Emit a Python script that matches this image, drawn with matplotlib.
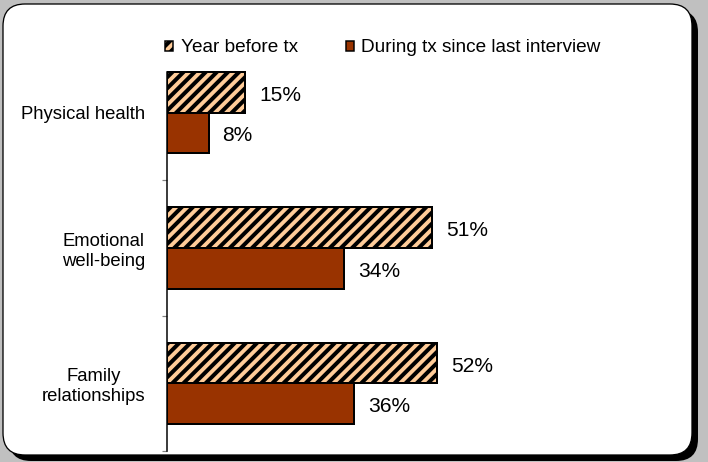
import matplotlib.pyplot as plt
import matplotlib.patches as mpatches
from matplotlib.transforms import IdentityTransform

# data
categories = ["Physical health", "Emotional\nwell-being", "Family\nrelationships"]
year_before = [15, 51, 52]
during_tx = [8, 34, 36]
series_names = ["Year before tx", "During tx since last interview"]

W, H, DPI = 708, 462, 100


def px(v):
    # pixels -> points
    return v * 72 / DPI


plt.rcParams['font.family'] = ['Liberation Sans', 'DejaVu Sans']
plt.rcParams['hatch.linewidth'] = px(4)
plt.rcParams['hatch.color'] = 'black'

fig = plt.figure(figsize=(W / DPI, H / DPI), dpi=DPI, facecolor='#c0c0c0')

# rounded white panel with a dark drop shadow (pixel coords)
shadow = mpatches.FancyBboxPatch((9, 1), 689, 451, boxstyle="round,pad=0,rounding_size=22",
                                 transform=IdentityTransform(), facecolor='black',
                                 edgecolor='none', zorder=0)
panel = mpatches.FancyBboxPatch((3, 7), 689, 451, boxstyle="round,pad=0,rounding_size=22",
                                transform=IdentityTransform(), facecolor='white',
                                edgecolor='black', linewidth=px(1.3), zorder=1)
fig.add_artist(shadow)
fig.add_artist(panel)

ax = fig.add_axes([167 / W, 11 / H, 520 / W, 406 / H])
ax.set_facecolor('none')
ax.set_zorder(2)

pos = list(range(len(categories)))
bh = 0.3
peach = '#FFCC99'
brown = '#993300'

bars1 = ax.barh([p - bh / 2 for p in pos], year_before, height=bh, color=peach,
                edgecolor='black', linewidth=px(2), hatch='///', label=series_names[0])
bars2 = ax.barh([p + bh / 2 for p in pos], during_tx, height=bh, color=brown,
                edgecolor='black', linewidth=px(2), label=series_names[1])

for bars, vals in [(bars1, year_before), (bars2, during_tx)]:
    for b, v in zip(bars, vals):
        ax.annotate(f"{v}%", (v, b.get_y() + b.get_height() / 2),
                    xytext=(px(14), px(-3)), textcoords='offset points',
                    ha='left', va='center', fontsize=px(21), color='black')

ax.set_xlim(0, 100)
ax.set_ylim(2.5, -0.5)

for s in ['top', 'right', 'bottom']:
    ax.spines[s].set_visible(False)
ax.spines['left'].set_linewidth(px(1.5))
ax.spines['left'].set_bounds(-0.3, 2.5)

ax.set_xticks([])
ax.set_yticks([0.5, 1.5, 2.5], ['', '', ''])
ax.tick_params(axis='y', which='major', direction='out', length=px(5), width=px(1.2),
               color='#808080')
ax.set_yticks(pos, categories, minor=True)
ax.tick_params(axis='y', which='minor', length=0, pad=px(22), labelsize=px(18.5))
for lbl in ax.get_yticklabels(minor=True):
    lbl.set_multialignment('center')

handles = [mpatches.Patch(facecolor=peach, edgecolor='black', hatch='///', linewidth=px(1.5)),
           mpatches.Patch(facecolor=brown, edgecolor='black', linewidth=px(1.5))]
fig.legend(handles, series_names, loc='center', bbox_to_anchor=(383 / W, 1 - 48 / H),
           ncol=2, frameon=False, fontsize=px(19), handlelength=0.42, handleheight=0.42,
           handletextpad=0.4, columnspacing=2.5, borderpad=0)

fig.savefig('out.png', dpi=DPI, facecolor=fig.get_facecolor())
